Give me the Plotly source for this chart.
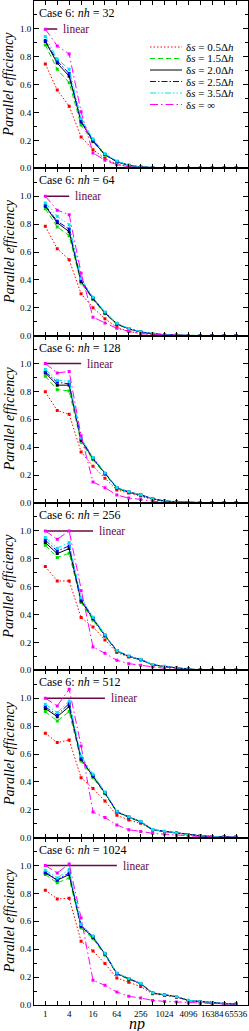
import numpy as np
import plotly.graph_objects as go
from plotly.subplots import make_subplots

# ---------------- data ----------------
NP = [1, 2, 4, 8, 16, 32, 64, 128, 256, 512, 1024, 2048, 4096, 8192, 16384, 32768, 65536]
NH = [32, 64, 128, 256, 512, 1024]
X_TICKVALS = [1, 2, 4, 8, 16, 32, 64, 128, 256, 512, 1024, 2048, 4096, 8192, 16384, 32768, 65536]
X_TICKTEXT = ["1", "", "4", "", "16", "", "64", "", "256", "", "1024", "", "4096", "", "16384", "", "65536"]
Y_TICKVALS = [0.0, 0.2, 0.4, 0.6, 0.8, 1.0]
Y_TICKTEXT = ["0.0", "0.2", "0.4", "0.6", "0.8", "1.0"]

SERIES_NAMES = ["δ<i>s</i> = 0.5Δ<i>h</i>", "δ<i>s</i> = 1.5Δ<i>h</i>", "δ<i>s</i> = 2.0Δ<i>h</i>",
                "δ<i>s</i> = 2.5Δ<i>h</i>", "δ<i>s</i> = 3.5Δ<i>h</i>", "δ<i>s</i> = ∞"]

# nh = 32
NH32_D05 = [0.748, 0.561, 0.446, 0.225, 0.134, 0.070, 0.030, 0.010, 0.004, 0.002, 0.001, 0.0005, 0.0003, 0.0002, 0.0001, 0.0001, 0.0001]
NH32_D15 = [0.885, 0.710, 0.614, 0.310, 0.190, 0.095, 0.046, 0.020, 0.009, 0.004, 0.002, 0.001, 0.0005, 0.0003, 0.0002, 0.0001, 0.0001]
NH32_D20 = [0.910, 0.755, 0.660, 0.333, 0.195, 0.098, 0.048, 0.021, 0.010, 0.005, 0.002, 0.001, 0.0005, 0.0003, 0.0002, 0.0001, 0.0001]
NH32_D25 = [0.916, 0.770, 0.680, 0.340, 0.200, 0.100, 0.049, 0.022, 0.010, 0.005, 0.002, 0.001, 0.0005, 0.0003, 0.0002, 0.0001, 0.0001]
NH32_D35 = [0.945, 0.784, 0.710, 0.357, 0.210, 0.105, 0.052, 0.023, 0.011, 0.005, 0.002, 0.001, 0.0005, 0.0003, 0.0002, 0.0001, 0.0001]
NH32_INF = [0.998, 0.878, 0.820, 0.405, 0.110, 0.058, 0.026, 0.012, 0.005, 0.002, 0.001, 0.0005, 0.0003, 0.0002, 0.0001, 0.0001, 0.0001]

# nh = 64
NH64_D05 = [0.784, 0.624, 0.544, 0.300, 0.200, 0.122, 0.060, 0.030, 0.016, 0.008, 0.004, 0.002, 0.001, 0.0005, 0.0003, 0.0002, 0.0001]
NH64_D15 = [0.910, 0.780, 0.717, 0.377, 0.260, 0.158, 0.080, 0.046, 0.025, 0.013, 0.006, 0.003, 0.0015, 0.0008, 0.0004, 0.0002, 0.0001]
NH64_D20 = [0.928, 0.810, 0.746, 0.388, 0.265, 0.163, 0.084, 0.049, 0.027, 0.014, 0.007, 0.003, 0.0015, 0.0008, 0.0004, 0.0002, 0.0001]
NH64_D25 = [0.935, 0.820, 0.765, 0.400, 0.270, 0.166, 0.086, 0.050, 0.027, 0.014, 0.007, 0.003, 0.0015, 0.0008, 0.0004, 0.0002, 0.0001]
NH64_D35 = [0.952, 0.856, 0.796, 0.410, 0.275, 0.170, 0.089, 0.052, 0.028, 0.015, 0.007, 0.003, 0.0015, 0.0008, 0.0004, 0.0002, 0.0001]
NH64_INF = [1.000, 0.900, 0.868, 0.448, 0.132, 0.090, 0.053, 0.030, 0.015, 0.008, 0.004, 0.002, 0.001, 0.0005, 0.0003, 0.0002, 0.0001]

# nh = 128
NH128_D05 = [0.797, 0.663, 0.636, 0.366, 0.263, 0.177, 0.093, 0.072, 0.050, 0.025, 0.012, 0.006, 0.003, 0.0015, 0.0008, 0.0004, 0.0002]
NH128_D15 = [0.909, 0.813, 0.804, 0.435, 0.310, 0.205, 0.104, 0.075, 0.056, 0.029, 0.014, 0.007, 0.004, 0.002, 0.001, 0.0005, 0.0002]
NH128_D20 = [0.933, 0.845, 0.845, 0.450, 0.318, 0.210, 0.108, 0.078, 0.058, 0.030, 0.015, 0.008, 0.004, 0.002, 0.001, 0.0005, 0.0002]
NH128_D25 = [0.940, 0.866, 0.854, 0.460, 0.322, 0.212, 0.110, 0.079, 0.059, 0.030, 0.015, 0.008, 0.004, 0.002, 0.001, 0.0005, 0.0002]
NH128_D35 = [0.957, 0.880, 0.873, 0.466, 0.325, 0.215, 0.112, 0.080, 0.060, 0.031, 0.016, 0.008, 0.004, 0.002, 0.001, 0.0005, 0.0002]
NH128_INF = [1.000, 0.933, 0.943, 0.483, 0.150, 0.110, 0.057, 0.035, 0.026, 0.012, 0.006, 0.003, 0.002, 0.001, 0.0005, 0.0003, 0.0002]

# nh = 256
NH256_D05 = [0.744, 0.641, 0.641, 0.378, 0.311, 0.218, 0.127, 0.096, 0.074, 0.038, 0.025, 0.016, 0.008, 0.004, 0.002, 0.001, 0.0005]
NH256_D15 = [0.897, 0.809, 0.840, 0.486, 0.360, 0.243, 0.136, 0.098, 0.075, 0.039, 0.027, 0.017, 0.009, 0.004, 0.002, 0.001, 0.0005]
NH256_D20 = [0.916, 0.837, 0.873, 0.498, 0.370, 0.250, 0.140, 0.100, 0.077, 0.040, 0.028, 0.018, 0.009, 0.004, 0.002, 0.001, 0.0005]
NH256_D25 = [0.933, 0.856, 0.892, 0.510, 0.375, 0.252, 0.141, 0.101, 0.078, 0.041, 0.028, 0.018, 0.009, 0.004, 0.002, 0.001, 0.0005]
NH256_D35 = [0.952, 0.876, 0.916, 0.520, 0.380, 0.255, 0.143, 0.102, 0.079, 0.042, 0.029, 0.018, 0.009, 0.004, 0.002, 0.001, 0.0005]
NH256_INF = [1.000, 0.940, 1.000, 0.570, 0.167, 0.122, 0.072, 0.048, 0.036, 0.024, 0.014, 0.008, 0.004, 0.002, 0.001, 0.0005, 0.0003]

# nh = 512
NH512_D05 = [0.749, 0.682, 0.700, 0.430, 0.352, 0.263, 0.160, 0.127, 0.103, 0.055, 0.042, 0.032, 0.018, 0.012, 0.008, 0.004, 0.002]
NH512_D15 = [0.904, 0.837, 0.904, 0.550, 0.430, 0.315, 0.182, 0.144, 0.112, 0.056, 0.044, 0.034, 0.019, 0.013, 0.009, 0.005, 0.003]
NH512_D20 = [0.926, 0.868, 0.940, 0.562, 0.440, 0.320, 0.185, 0.147, 0.114, 0.057, 0.045, 0.035, 0.020, 0.013, 0.009, 0.005, 0.003]
NH512_D25 = [0.938, 0.880, 0.962, 0.570, 0.445, 0.323, 0.187, 0.148, 0.115, 0.058, 0.045, 0.035, 0.020, 0.013, 0.009, 0.005, 0.003]
NH512_D35 = [0.957, 0.897, 0.980, 0.586, 0.455, 0.328, 0.190, 0.150, 0.117, 0.059, 0.046, 0.036, 0.020, 0.013, 0.009, 0.005, 0.003]
NH512_INF = [1.000, 0.945, 1.065, 0.658, 0.184, 0.144, 0.091, 0.057, 0.045, 0.031, 0.025, 0.018, 0.012, 0.008, 0.005, 0.003, 0.002]

# nh = 1024
NH1024_D05 = [0.823, 0.761, 0.766, 0.457, 0.388, 0.297, 0.194, 0.163, 0.132, 0.081, 0.070, 0.057, 0.030, 0.022, 0.017, 0.009, 0.005]
NH1024_D15 = [0.935, 0.876, 0.911, 0.553, 0.475, 0.358, 0.220, 0.183, 0.150, 0.084, 0.070, 0.059, 0.032, 0.023, 0.018, 0.010, 0.006]
NH1024_D20 = [0.947, 0.895, 0.935, 0.565, 0.485, 0.366, 0.225, 0.187, 0.153, 0.086, 0.072, 0.060, 0.033, 0.024, 0.018, 0.010, 0.006]
NH1024_D25 = [0.952, 0.900, 0.947, 0.570, 0.490, 0.368, 0.226, 0.188, 0.154, 0.087, 0.072, 0.060, 0.033, 0.024, 0.018, 0.010, 0.006]
NH1024_D35 = [0.967, 0.911, 0.971, 0.577, 0.495, 0.372, 0.229, 0.190, 0.156, 0.088, 0.073, 0.061, 0.034, 0.024, 0.018, 0.010, 0.006]
NH1024_INF = [1.000, 0.947, 1.012, 0.624, 0.177, 0.141, 0.093, 0.062, 0.050, 0.033, 0.026, 0.022, 0.015, 0.011, 0.008, 0.005, 0.003]

PANELS = [
    [NH32_D05, NH32_D15, NH32_D20, NH32_D25, NH32_D35, NH32_INF],
    [NH64_D05, NH64_D15, NH64_D20, NH64_D25, NH64_D35, NH64_INF],
    [NH128_D05, NH128_D15, NH128_D20, NH128_D25, NH128_D35, NH128_INF],
    [NH256_D05, NH256_D15, NH256_D20, NH256_D25, NH256_D35, NH256_INF],
    [NH512_D05, NH512_D15, NH512_D20, NH512_D25, NH512_D35, NH512_INF],
    [NH1024_D05, NH1024_D15, NH1024_D20, NH1024_D25, NH1024_D35, NH1024_INF],
]

# ---------------- style ----------------
COLORS = ["#ff0000", "#00e000", "#000000", "#0000ff", "#00e5ee", "#ff00ff"]
DASHES = ["1.5px,2px", "5px,3px", "solid", "6px,2px,1.5px,2px", "6px,2px,1.5px,2px,1.5px,2px", "8px,3px,1.5px,3px"]
LINEAR_COLOR = "#6a0848"
FONT = "Liberation Serif"

W, H = 249, 1031
ML, MR, MT, MB = 34, 1, 1, 26
PW = W - ML - MR
PH = H - MT - MB


def px_to_paper_x(px):
    return (px - ML) / PW


def py_to_paper_y(py):
    return (H - MB - py) / PH


fig = make_subplots(rows=6, cols=1, vertical_spacing=0)

for i, (nh, series) in enumerate(zip(NH, PANELS)):
    row = i + 1
    # linear reference
    fig.add_trace(go.Scatter(x=[1, nh / 16], y=[1.0, 1.0], mode="lines",
                             line=dict(color=LINEAR_COLOR, width=1.5),
                             showlegend=False, hoverinfo="skip"), row=row, col=1)
    for vals, c, d, name in zip(series, COLORS, DASHES, SERIES_NAMES):
        fig.add_trace(go.Scatter(x=NP, y=vals, mode="lines+markers", name=name,
                                 line=dict(color=c, width=1, dash=d),
                                 marker=dict(color=c, size=3, symbol="square", line=dict(width=0)),
                                 showlegend=False), row=row, col=1)

    xa = "x" if row == 1 else f"x{row}"
    ya = "y" if row == 1 else f"y{row}"
    # "linear" label
    fig.add_annotation(x=np.log10(nh / 16), y=1.0, xref=xa, yref=ya, text="linear",
                       showarrow=False, xanchor="left", yanchor="middle", xshift=4,
                       font=dict(family=FONT, size=11.5, color=LINEAR_COLOR))
    # case label
    fig.add_annotation(x=px_to_paper_x(37), y=1, xref="paper", yref=f"{ya} domain",
                       text=f"Case 6: <i>nh</i> = {nh}", showarrow=False,
                       xanchor="left", yanchor="top", yshift=-3,
                       font=dict(family=FONT, size=12, color="black"))
    # y title
    fig.add_annotation(x=px_to_paper_x(9), y=0.5, xref="paper", yref=f"{ya} domain",
                       text="<i>Parallel efficiency</i>", textangle=-90, showarrow=False,
                       xanchor="center", yanchor="middle",
                       font=dict(family=FONT, size=14, color="black"))

    fig.update_xaxes(type="log", range=[np.log10(2 ** -0.95), np.log10(2 ** 17)],
                     tickmode="array", tickvals=X_TICKVALS, ticktext=X_TICKTEXT,
                     showticklabels=(row == 6), tickangle=0, automargin=False,
                     ticks="inside", ticklen=4, tickwidth=1,
                     tickcolor="black", showline=True, linecolor="black", linewidth=1,
                     mirror="ticks", showgrid=False, zeroline=False,
                     tickfont=dict(family=FONT, size=9, color="black"),
                     row=row, col=1)
    fig.update_yaxes(range=[0, 1.2], tickmode="array", tickvals=Y_TICKVALS, ticktext=Y_TICKTEXT,
                     automargin=False, ticks="inside", ticklen=5, tickwidth=1, tickcolor="black",
                     minor=dict(dtick=0.1, tick0=0, ticks="inside", ticklen=3, tickcolor="black", showgrid=False),
                     showline=True, linecolor="black", linewidth=1, mirror="ticks",
                     showgrid=False, zeroline=False,
                     tickfont=dict(family=FONT, size=9, color="black"),
                     row=row, col=1)

# manual legend in panel 1
for k, (c, d, name) in enumerate(zip(COLORS, DASHES, SERIES_NAMES)):
    yc = 47 + 11.5 * k
    fig.add_shape(type="line", xref="paper", yref="paper",
                  x0=px_to_paper_x(150), x1=px_to_paper_x(182),
                  y0=py_to_paper_y(yc), y1=py_to_paper_y(yc),
                  line=dict(color=c, width=1, dash=d))
    fig.add_annotation(x=px_to_paper_x(184), y=py_to_paper_y(yc), xref="paper", yref="paper",
                       text=name, showarrow=False, xanchor="left", yanchor="middle",
                       font=dict(family=FONT, size=11, color="black"))

# x title
fig.add_annotation(x=px_to_paper_x(137), y=py_to_paper_y(1023.5), xref="paper", yref="paper",
                   text="<i>np</i>", showarrow=False, xanchor="center", yanchor="middle",
                   font=dict(family=FONT, size=16, color="black"))

fig.update_layout(width=W, height=H, margin=dict(l=ML, r=MR, t=MT, b=MB),
                  paper_bgcolor="white", plot_bgcolor="white", showlegend=False,
                  font=dict(family=FONT, color="black"))

fig.write_html("out.html", config={"displayModeBar": False},
               post_script="document.body.style.margin='0';document.body.style.padding='0';"
                           "document.body.style.overflow='hidden';")
